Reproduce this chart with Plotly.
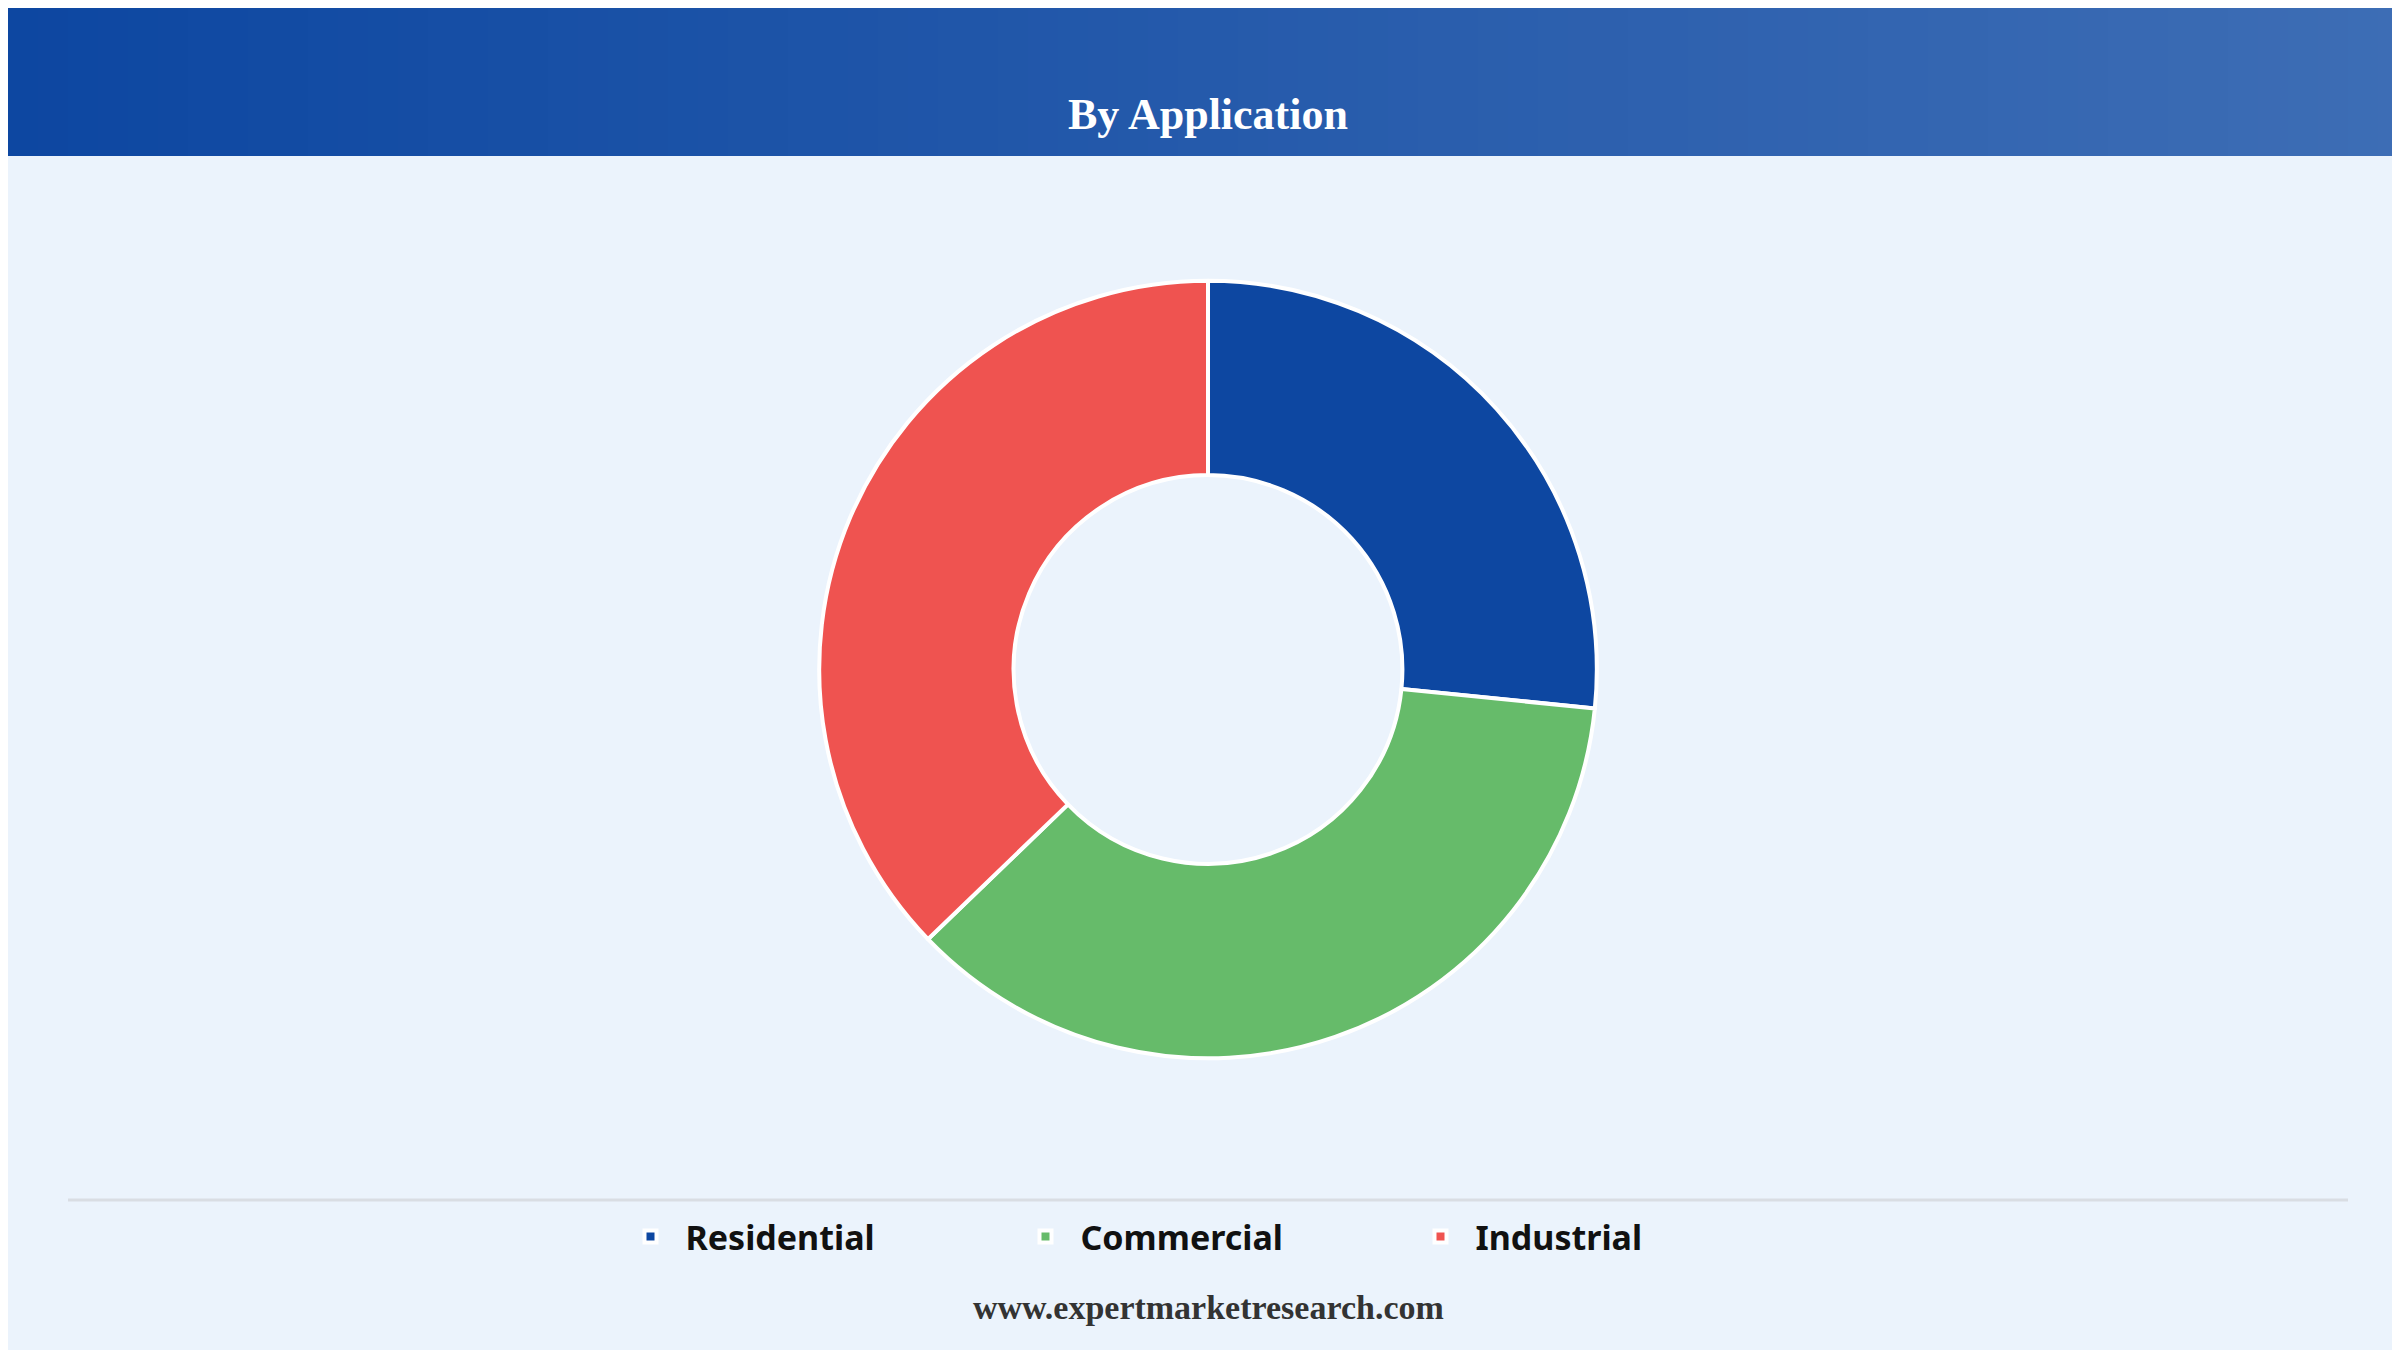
import plotly.graph_objects as go

# Data
labels = ["Residential", "Commercial", "Industrial"]
values = [26.6, 36.2, 37.2]
colors = ["#0d47a1", "#66bb6a", "#ef5350"]

W, H = 2400, 1350

fig = go.Figure()
fig.add_trace(go.Pie(
    labels=labels,
    values=values,
    hole=0.5,
    sort=False,
    direction="clockwise",
    rotation=0,
    textinfo="none",
    marker=dict(colors=colors, line=dict(color="white", width=4)),
    domain=dict(x=[0.338, 0.662], y=[0.221, 0.799]),
))

# header band with a horizontal gradient, built from thin stripes
shapes = []
n = 80
c0, c1 = (13, 71, 161), (61, 109, 181)
for i in range(n):
    t = i / (n - 1)
    col = "rgb(%d,%d,%d)" % tuple(round(a + (b - a) * t) for a, b in zip(c0, c1))
    shapes.append(dict(type="rect", xref="paper", yref="paper",
                       x0=i / n, x1=(i + 1) / n + 0.002, y0=1 - 148 / H, y1=1,
                       fillcolor=col, line=dict(width=0), layer="below"))
# separator line above the legend
shapes.append(dict(type="line", xref="paper", yref="paper",
                   x0=0.025, x1=0.975, y0=1 - 1192 / H, y1=1 - 1192 / H,
                   line=dict(color="#d9dde3", width=3)))

fig.update_layout(
    width=W, height=H,
    margin=dict(l=0, r=0, t=0, b=0),
    paper_bgcolor="#ebf3fc",
    plot_bgcolor="#ebf3fc",
    shapes=shapes,
    showlegend=True,
    legend=dict(orientation="h", x=0.5, xanchor="center", y=1 - 1229 / H, yanchor="middle",
                font=dict(family="Noto Sans", size=34, color="#111111", weight="bold"),
                itemwidth=60, entrywidth=320, bgcolor="rgba(0,0,0,0)"),
    annotations=[
        dict(text="<b>By Application</b>", xref="paper", yref="paper", x=0.5, y=1 - 80 / H,
             showarrow=False, font=dict(family="Liberation Serif", size=44, color="white")),
        dict(text="<b>www.expertmarketresearch.com</b>", xref="paper", yref="paper",
             x=0.5, y=1 - 1320 / H, showarrow=False,
             font=dict(family="Liberation Serif", size=34, color="#333333")),
    ],
)

fig.write_html("out.html")
